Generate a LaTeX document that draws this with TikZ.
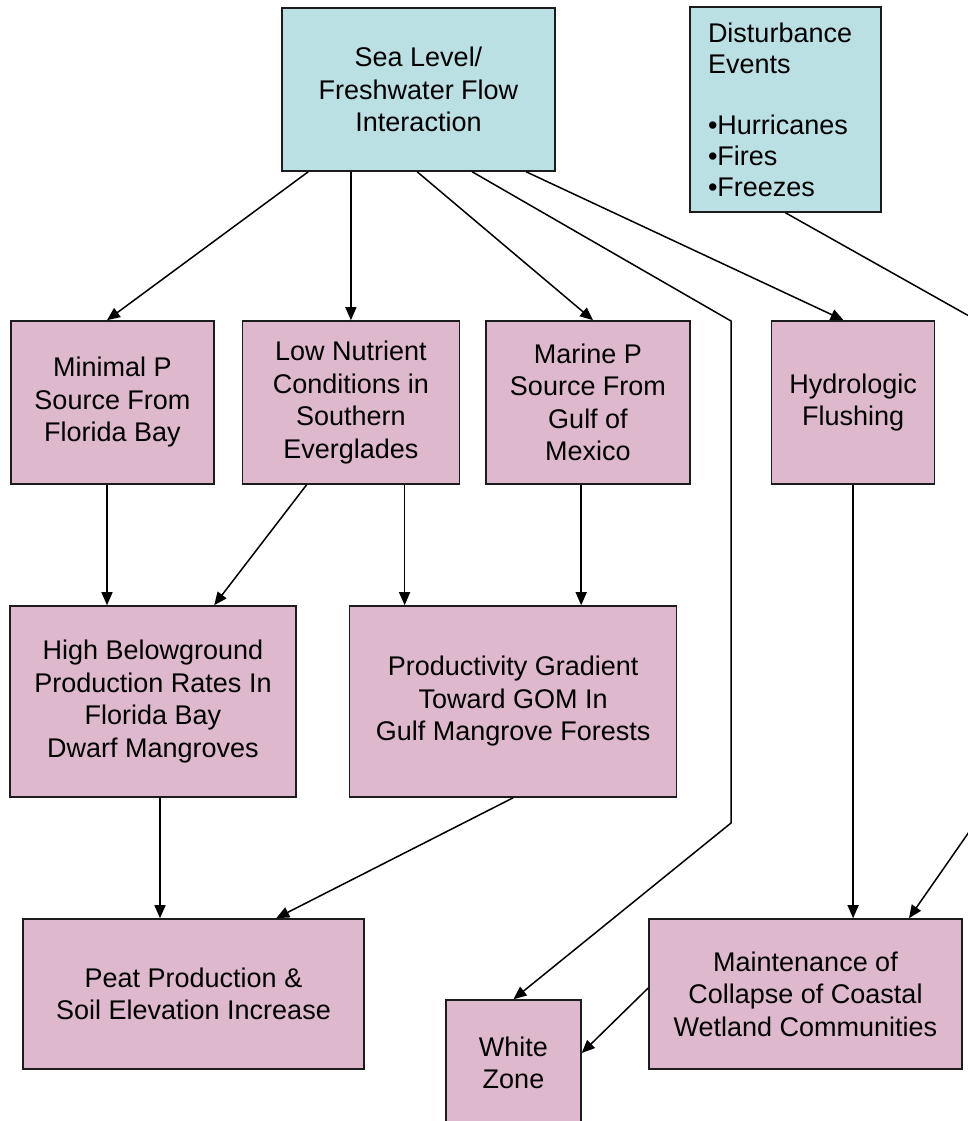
\documentclass[tikz,border=0pt]{standalone}
\usepackage{fontspec}
\setmainfont{Liberation Sans}
\usetikzlibrary{positioning,arrows.meta}
\definecolor{evsea}{RGB}{186,224,227}
\definecolor{evpink}{RGB}{222,184,204}
\definecolor{evline}{RGB}{28,28,28}

\begin{document}
\begin{tikzpicture}[x=0.5pt,y=-0.5pt,
  every node/.style={font=\fontsize{13.5}{16.25}\selectfont},
  driver/.style={draw=evline,fill=evsea,line width=0.8pt,align=center,inner sep=2pt},
  effect/.style={draw=evline,fill=evpink,line width=0.8pt,align=center,inner sep=2pt},
  flow/.style={-{Triangle[length=6.5pt,width=5.5pt]},line width=0.75pt,black}]

\clip (0,0) rectangle (968,1121);

\node[driver,minimum width=136.5pt,minimum height=81.5pt] (sea) at (418.5,89.5) {Sea Level/\\Freshwater Flow\\Interaction};
\node[driver,align=left,text width=77.5pt,inner xsep=9pt,minimum height=102.5pt,font=\fontsize{13.5}{15.5}\selectfont] (dist) at (785.5,109.5)
  {Disturbance\\Events\\[15pt]•Hurricanes\\•Fires\\•Freezes};

% first row
\node[effect,minimum width=101.5pt,minimum height=81.5pt] (minp) at (112.5,402.5) {Minimal P\\Source From\\Florida Bay};
\node[effect,right=13.4pt of minp,minimum width=108.5pt,minimum height=81.5pt] (lownut) {Low Nutrient\\Conditions in\\Southern\\Everglades};
\node[effect,right=12.5pt of lownut,minimum width=102pt,minimum height=81.5pt] (marp) {Marine P\\Source From\\Gulf of\\Mexico};
\node[effect,right=40pt of marp,minimum width=81.5pt,minimum height=81.5pt] (flush) {Hydrologic\\Flushing};

% second row
\node[effect,minimum width=143pt,minimum height=95.5pt] (belowg) at (153,701.5) {High Belowground\\Production Rates In\\Florida Bay\\Dwarf Mangroves};
\node[effect,right=26pt of belowg,minimum width=163.5pt,minimum height=95.5pt] (gradient) {Productivity Gradient\\Toward GOM In\\Gulf Mangrove Forests};

% bottom row
\node[effect,minimum width=170.5pt,minimum height=75pt] (peat) at (193.5,994) {Peat Production \&\\Soil Elevation Increase};
\node[effect,minimum width=156.5pt,minimum height=75pt] (collapse) at (805.5,994) {Maintenance of\\Collapse of Coastal\\Wetland Communities};
\node[effect,minimum width=67.5pt,minimum height=63pt] (whitez) at (513.5,1063) {White\\Zone};

% out of the sea level box
\draw[flow] ([xshift=13.5pt]sea.south west) -- ([xshift=-2.75pt]minp.north);
\draw[flow] (sea.south -| lownut.north) -- (lownut.north);
\draw[flow] ([xshift=68pt]sea.south west) -- ([xshift=2.5pt]marp.north);
\draw[flow] ([xshift=122.5pt]sea.south west) -- ([xshift=-4.75pt]flush.north);
\coordinate (wtop) at (731,321);
\coordinate (wlow) at (731,823);
\draw[flow] ([xshift=95.5pt]sea.south west) -- (wtop) -- (wlow) -- (whitez.north);

% disturbance path runs off the right edge
\coordinate (dtop) at (985,325);
\coordinate (dlow) at (985,809);
\draw[flow] (dist.south) -- (dtop) -- (dlow) -- ([xshift=51.75pt]collapse.north);
\draw[flow] (flush.south) -- (flush.south |- collapse.north);

% row one to row two
\draw[flow] ([xshift=-2.75pt]minp.south) -- ([xshift=-2.75pt]minp.south |- belowg.north);
\draw[flow] ([xshift=32.5pt]lownut.south west) -- ([xshift=102.5pt]belowg.north west);
\draw[flow] ([xshift=81.5pt]lownut.south west) -- ([xshift=81.5pt]lownut.south west |- gradient.north);
\draw[flow] ([xshift=48pt]marp.south west) -- ([xshift=48pt]marp.south west |- gradient.north);

% row two to the bottom
\draw[flow] ([xshift=3.5pt]belowg.south) -- ([xshift=3.5pt]belowg.south |- peat.north);
\draw[flow] (gradient.south) -- ([xshift=127pt]peat.north west);
\draw[flow] ([yshift=3pt]collapse.west) -- ([yshift=5pt]whitez.east);
\end{tikzpicture}
\end{document}
